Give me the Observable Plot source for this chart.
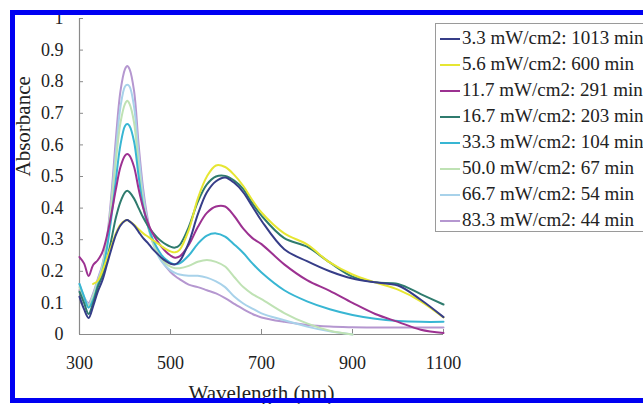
<!DOCTYPE html>
<html>
<head>
<meta charset="utf-8">
<script src="https://cdn.jsdelivr.net/npm/d3@7"></script>
<script src="https://cdn.jsdelivr.net/npm/@observablehq/plot@0.6"></script>
<style>
  html, body { margin: 0; padding: 0; background: #fff; }
  body { width: 643px; height: 404px; overflow: hidden; position: relative; font-family: "Liberation Serif", "Times New Roman", serif; }
  #chart { position: absolute; left: 0; top: 0; }
  #frame { position: absolute; left: 10px; top: 10px; width: 720px; height: 393px; box-sizing: border-box;
           border: 5px solid #0000f2; border-right: none; pointer-events: none; }
  #legend { position: absolute; left: 435px; top: 23px; width: 260px; height: 209px; box-sizing: border-box;
            border: 1.5px solid #9a9a9a; background: #fff; padding-top: 1px; }
  #legend .row { height: 26px; line-height: 26px; font-size: 19px; color: #222; white-space: nowrap; }
  #legend .sw { display: inline-block; width: 20px; height: 2px; vertical-align: middle; margin: 0 2px 0 4px; position: relative; top: -1px; }
</style>
</head>
<body>
<div id="chart"></div>
<div id="legend"></div>
<div id="frame"></div>
<script>
// Sampling grid (nm) shared by all spectra; null = not measured there
const wavelengths = [300, 310, 320, 330, 340, 350, 360, 370, 380, 390, 400, 405, 410, 420, 430, 440, 450, 460, 470, 480, 490, 500, 510, 520, 540, 560, 580, 600, 620, 640, 660, 680, 700, 750, 800, 850, 900, 950, 1000, 1050, 1100];

const seriesLabels = [
  "3.3 mW/cm2: 1013 min",
  "5.6 mW/cm2: 600 min",
  "11.7 mW/cm2: 291 min",
  "16.7 mW/cm2: 203 min",
  "33.3 mW/cm2: 104 min",
  "50.0 mW/cm2: 67 min",
  "66.7 mW/cm2: 54 min",
  "83.3 mW/cm2: 44 min"
];
const seriesColors = ["#363d88", "#e6e632", "#9c3191", "#2f7b6e", "#38b6d3", "#bfe2b4", "#a8d2ea", "#b597d0"];

const abs_3_3 = [0.12, 0.08, 0.052, 0.09, 0.135, 0.17, 0.22, 0.27, 0.315, 0.345, 0.36, 0.362, 0.358, 0.345, 0.325, 0.305, 0.29, 0.272, 0.257, 0.243, 0.232, 0.224, 0.222, 0.232, 0.29, 0.38, 0.45, 0.485, 0.497, 0.48, 0.45, 0.405, 0.36, 0.27, 0.232, 0.2, 0.177, 0.165, 0.155, 0.11, 0.055];
const abs_5_6 = [null, null, null, 0.16, 0.17, 0.2, 0.24, 0.28, 0.32, 0.348, 0.36, 0.362, 0.358, 0.347, 0.333, 0.32, 0.31, 0.3, 0.29, 0.28, 0.27, 0.263, 0.26, 0.268, 0.33, 0.43, 0.5, 0.535, 0.53, 0.505, 0.47, 0.425, 0.386, 0.32, 0.285, 0.228, 0.19, 0.165, 0.142, 0.105, 0.054];
const abs_11_7 = [0.245, 0.225, 0.185, 0.22, 0.235, 0.26, 0.31, 0.38, 0.46, 0.53, 0.566, 0.571, 0.566, 0.53, 0.46, 0.4, 0.355, 0.322, 0.298, 0.278, 0.262, 0.25, 0.243, 0.247, 0.283, 0.34, 0.385, 0.405, 0.405, 0.375, 0.335, 0.305, 0.286, 0.222, 0.172, 0.138, 0.1, 0.065, 0.04, 0.015, 0.005];
const abs_16_7 = [0.135, 0.1, 0.065, 0.1, 0.15, 0.185, 0.235, 0.3, 0.37, 0.42, 0.45, 0.455, 0.45, 0.43, 0.4, 0.37, 0.345, 0.325, 0.308, 0.295, 0.285, 0.278, 0.275, 0.283, 0.34, 0.42, 0.475, 0.5, 0.502, 0.487, 0.46, 0.415, 0.376, 0.305, 0.278, 0.228, 0.183, 0.165, 0.16, 0.128, 0.095];
const abs_33_3 = [0.16, 0.12, 0.085, 0.11, 0.155, 0.2, 0.27, 0.37, 0.49, 0.6, 0.66, 0.666, 0.66, 0.61, 0.5, 0.405, 0.345, 0.305, 0.275, 0.252, 0.237, 0.227, 0.222, 0.225, 0.25, 0.287, 0.313, 0.32, 0.31, 0.285, 0.258, 0.225, 0.196, 0.14, 0.105, 0.08, 0.062, 0.05, 0.043, 0.04, 0.04];
const abs_50_0 = [0.15, 0.115, 0.09, 0.12, 0.165, 0.21, 0.29, 0.41, 0.55, 0.67, 0.73, 0.74, 0.73, 0.67, 0.53, 0.42, 0.345, 0.295, 0.263, 0.24, 0.225, 0.215, 0.21, 0.21, 0.217, 0.23, 0.236, 0.23, 0.215, 0.182, 0.15, 0.128, 0.112, 0.068, 0.035, 0.012, 0, null, null, null, null];
const abs_66_7 = [0.16, 0.12, 0.095, 0.125, 0.17, 0.215, 0.29, 0.42, 0.58, 0.72, 0.785, 0.79, 0.785, 0.72, 0.57, 0.44, 0.355, 0.295, 0.257, 0.232, 0.215, 0.203, 0.195, 0.19, 0.186, 0.186, 0.18, 0.168, 0.15, 0.12, 0.098, 0.082, 0.067, 0.045, 0.025, 0.01, 0, null, null, null, null];
const abs_83_3 = [0.14, 0.115, 0.1, 0.13, 0.175, 0.22, 0.3, 0.44, 0.62, 0.77, 0.84, 0.85, 0.84, 0.77, 0.6, 0.46, 0.365, 0.3, 0.262, 0.235, 0.215, 0.198, 0.185, 0.175, 0.158, 0.15, 0.14, 0.13, 0.115, 0.097, 0.08, 0.065, 0.054, 0.04, 0.03, 0.025, 0.023, 0.022, 0.022, 0.022, 0.022];

const seriesValues = [abs_3_3, abs_5_6, abs_11_7, abs_16_7, abs_33_3, abs_50_0, abs_66_7, abs_83_3];

const xTicks = [300, 500, 700, 900, 1100];
const yTicks = [0, 0.1, 0.2, 0.3, 0.4, 0.5, 0.6, 0.7, 0.8, 0.9, 1];

// Long table; highest intensities first so the low-intensity spectra sit on top
const rows = [];
for (let i = seriesValues.length - 1; i >= 0; --i) {
  seriesValues[i].forEach((v, j) => rows.push({nm: wavelengths[j], a: v, s: seriesLabels[i]}));
}

const axisColor = "#8a8a8a";

const chart = Plot.plot({
  width: 643,
  height: 404,
  marginLeft: 79,
  marginRight: 200,
  marginTop: 18,
  marginBottom: 70,
  style: {fontFamily: "'Liberation Serif', 'Times New Roman', serif", fontSize: "18px", color: "#222", background: "transparent"},
  x: {domain: [300, 1100]},
  y: {domain: [0, 1]},
  color: {domain: seriesLabels, range: seriesColors},
  marks: [
    Plot.ruleX([300], {stroke: axisColor, strokeWidth: 1.2}),
    Plot.ruleY([0], {stroke: axisColor, strokeWidth: 1.2}),
    Plot.axisX({ticks: xTicks, tickSize: -5, tickPadding: 27, tickFormat: d => String(d), label: null, stroke: axisColor, fill: "#222"}),
    Plot.axisY({ticks: yTicks, tickSize: -4, tickPadding: 20, tickFormat: d => String(d), label: null, stroke: axisColor, fill: "#222"}),
    Plot.line(rows, {x: "nm", y: "a", z: "s", stroke: "s", strokeWidth: 2, curve: "catmull-rom"}),
    Plot.text(["Absorbance"], {frameAnchor: "left", dx: -56, rotate: -90, fontSize: 21, fill: "#222"}),
    Plot.text(["Wavelength (nm)"], {frameAnchor: "bottom", dy: 51, lineAnchor: "top", fontSize: 21, fill: "#222"})
  ]
});
document.getElementById("chart").appendChild(chart);

// Legend built from the same labels and colours
const legend = d3.select("#legend");
seriesLabels.forEach((label, i) => {
  const row = legend.append("div").attr("class", "row");
  row.append("span").attr("class", "sw").style("background", seriesColors[i]);
  row.append("span").text(label);
});
</script>
</body>
</html>
